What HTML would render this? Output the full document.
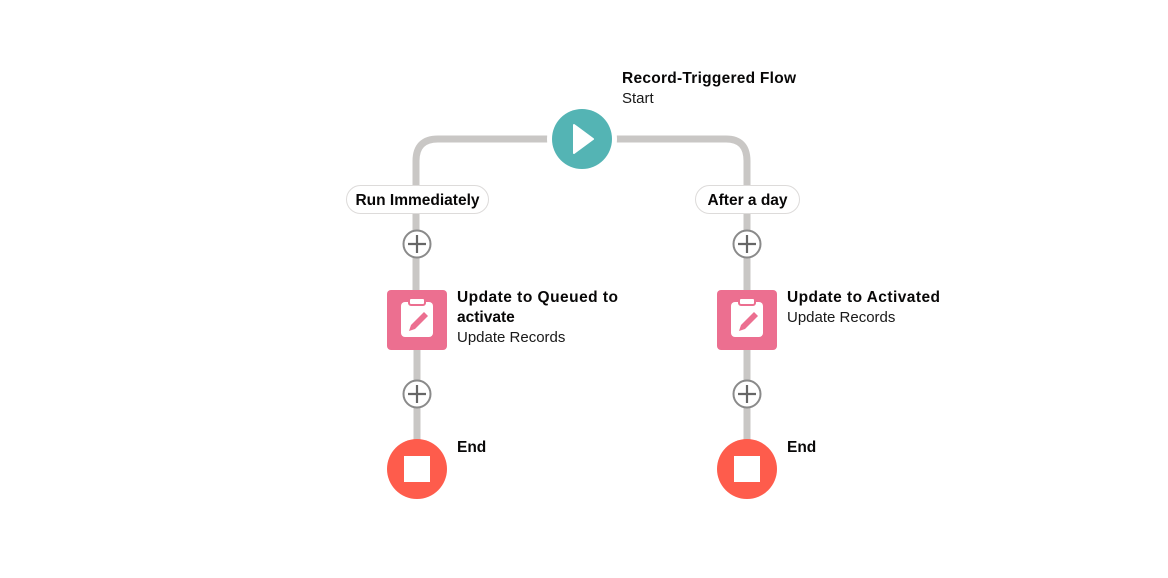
<!DOCTYPE html>
<html><head><style>
body{margin:0;background:#fff;}
svg text{font-family:"Liberation Sans",sans-serif;fill:#080707;}
.b{font-weight:bold;font-size:15.5px}
.n{font-size:15px;fill:#181818}
</style></head><body>
<svg width="1168" height="573" viewBox="0 0 1168 573" xmlns="http://www.w3.org/2000/svg">
<g fill="none" stroke="#c9c7c5" stroke-width="7">
<path d="M560 139 H438 Q416 139 416 161 V290"/>
<path d="M604 139 H726 Q747 139 747 161 V290"/>
<path d="M417 350 V440"/>
<path d="M747 350 V440"/>
</g>
<circle cx="582" cy="139" r="35" fill="#fff"/>
<circle cx="582" cy="139" r="30" fill="#54b4b4"/>
<path d="M574 125 L593 139 L574 153 Z" fill="#fff" stroke="#fff" stroke-width="2" stroke-linejoin="round"/>
<text x="622" y="83" class="b" textLength="174">Record-Triggered Flow</text>
<text x="622" y="103" class="n">Start</text>
<rect x="346.5" y="185.5" width="142" height="28" rx="14" fill="#fff" stroke="#dddbda"/>
<text x="417.5" y="205" class="b" text-anchor="middle" font-size="14.5">Run Immediately</text>
<rect x="695.5" y="185.5" width="104" height="28" rx="14" fill="#fff" stroke="#dddbda"/>
<text x="747.5" y="205" class="b" text-anchor="middle" font-size="14.5">After a day</text>
<g stroke="#8a8a8a" stroke-width="2" fill="#fff">
<circle cx="417" cy="244" r="13.5"/><circle cx="747" cy="244" r="13.5"/>
<circle cx="417" cy="394" r="13.5"/><circle cx="747" cy="394" r="13.5"/>
</g>
<g stroke="#666" stroke-width="2.2">
<path d="M408 244h18M417 235v18M738 244h18M747 235v18M408 394h18M417 385v18M738 394h18M747 385v18"/>
</g>
<g id="act">
<rect x="387" y="290" width="60" height="60" rx="4" fill="#ec6f90"/>
<rect x="401" y="302" width="32" height="35" rx="4" fill="#fff"/>
<rect x="409" y="298" width="16" height="7" rx="2" fill="#fff" stroke="#ec6f90" stroke-width="2"/>
<path d="M409 331 L411 325 L424 312 L428 316 L415 329 Z" fill="#ec6f90"/>
</g>
<use href="#act" x="330"/>
<text x="457" y="302" class="b" textLength="161">Update to Queued to</text>
<text x="457" y="322" class="b">activate</text>
<text x="457" y="342" class="n">Update Records</text>
<text x="787" y="302" class="b" textLength="153">Update to Activated</text>
<text x="787" y="322" class="n">Update Records</text>
<circle cx="417" cy="469" r="30" fill="#fe5c4c"/>
<rect x="404" y="456" width="26" height="26" fill="#fff"/>
<circle cx="747" cy="469" r="30" fill="#fe5c4c"/>
<rect x="734" y="456" width="26" height="26" fill="#fff"/>
<text x="457" y="452" class="b">End</text>
<text x="787" y="452" class="b">End</text>
</svg>
</body></html>
